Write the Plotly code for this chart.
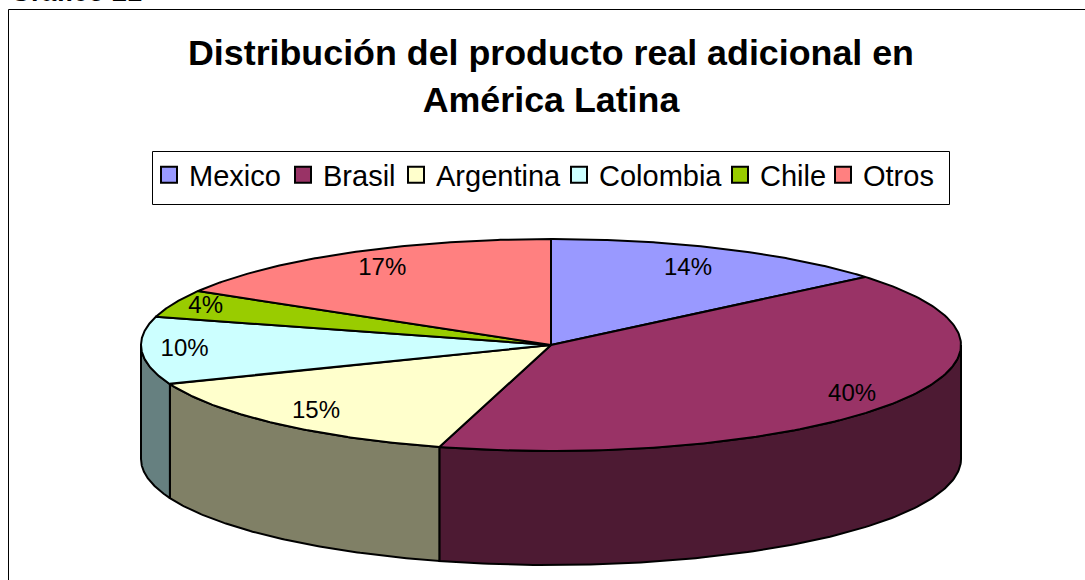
import numpy as np
import plotly.graph_objects as go

categories = ["Mexico", "Brasil", "Argentina", "Colombia", "Chile", "Otros"]
shares = [13.9, 40.49, 14.6, 10.3, 4.2, 16.51]
share_labels = ["14%", "40%", "15%", "10%", "4%", "17%"]
top_colors = ["#9999FF", "#993366", "#FFFFCC", "#CCFFFF", "#99CC00", "#FF8080"]
side_colors = ["#4D4D80", "#4D1A33", "#808066", "#668080", "#4D6600", "#804040"]
label_radii = [0.79, 0.875, 0.855, 0.895, 0.915, 0.83]
legend_left = [161, 295, 408, 571, 732, 835]

CX, CY, RX, RY, DEPTH = 551, 345, 410, 106, 114
W, H = 1085, 580


def ellipse(theta, dz=0):
    return CX + RX * np.sin(theta), CY - RY * np.cos(theta) + dz


edges = np.concatenate([[0], np.cumsum(shares)]) / sum(shares) * 2 * np.pi
fig = go.Figure()

# visible outer wall (front half of the cylinder)
for i, color in enumerate(side_colors):
    a, b = max(edges[i], np.pi / 2), min(edges[i + 1], 3 * np.pi / 2)
    if a >= b:
        continue
    t = np.linspace(a, b, 120)
    xt, yt = ellipse(t)
    xb, yb = ellipse(t[::-1], DEPTH)
    fig.add_trace(go.Scatter(
        x=np.r_[xt, xb, xt[0]], y=np.r_[yt, yb, yt[0]], mode="lines", fill="toself",
        fillcolor=color, line=dict(color="#000000", width=2),
        showlegend=False, hoverinfo="skip"))

# top face
for i, color in enumerate(top_colors):
    t = np.linspace(edges[i], edges[i + 1], 160)
    xt, yt = ellipse(t)
    fig.add_trace(go.Scatter(
        x=np.r_[CX, xt, CX], y=np.r_[CY, yt, CY], mode="lines", fill="toself",
        fillcolor=color, line=dict(color="#000000", width=2),
        showlegend=False, hoverinfo="text", text=categories[i]))

# percentage labels
mid = (edges[:-1] + edges[1:]) / 2
lx = CX + RX * np.array(label_radii) * np.sin(mid)
ly = CY - RY * np.array(label_radii) * np.cos(mid)
fig.add_trace(go.Scatter(
    x=lx, y=ly, mode="text", text=share_labels, textposition="middle center",
    textfont=dict(family="Liberation Sans", size=24, color="#000000"),
    showlegend=False, hoverinfo="skip"))

# legend entries, one small legend per entry so the spacing can follow the frame
legend_layouts = {}
for i, (name, color) in enumerate(zip(categories, top_colors)):
    key = "legend" if i == 0 else f"legend{i + 1}"
    fig.add_trace(go.Scatter(
        x=[None], y=[None], mode="markers", name=name, legend=key,
        marker=dict(symbol="square", size=17, color=color,
                    line=dict(color="#000000", width=2))))
    legend_layouts[key] = dict(
        x=(legend_left[i] - 12) / W, y=1 - 175 / H, xanchor="left", yanchor="middle",
        bgcolor="rgba(0,0,0,0)", borderwidth=0, itemwidth=30,
        font=dict(family="Liberation Sans", size=29, color="#000000"))

fig.update_layout(
    width=W, height=H, autosize=False,
    margin=dict(l=0, r=0, t=0, b=0),
    paper_bgcolor="#FFFFFF", plot_bgcolor="#FFFFFF",
    xaxis=dict(range=[0, W], visible=False, fixedrange=True),
    yaxis=dict(range=[H, 0], visible=False, fixedrange=True),
    font=dict(family="Liberation Sans", color="#000000"),
    title=dict(
        text="<b>Distribución del producto real adicional en<br>América Latina</b>",
        font=dict(family="Liberation Sans", size=35.8, color="#000000"),
        x=551 / W, xanchor="center", y=1 - 65 / H, yanchor="middle"),
    shapes=[
        dict(type="rect", xref="x", yref="y", x0=8.5, y0=9.5, x1=1200, y1=700,
             line=dict(color="#000000", width=1), layer="below"),
        dict(type="rect", xref="x", yref="y", x0=152.5, y0=151.5, x1=949.5, y1=204.5,
             line=dict(color="#000000", width=1), layer="below"),
    ],
    annotations=[dict(text="<b>Gráfico 21</b>", xref="paper", yref="paper",
                      x=8 / W, y=1 + 8 / H, xanchor="left", yanchor="middle",
                      showarrow=False,
                      font=dict(family="Liberation Sans", size=27, color="#000000"))],
    **legend_layouts,
)

fig.write_html("out.html", config={"displayModeBar": False},
               post_script="document.body.style.margin='0';")
